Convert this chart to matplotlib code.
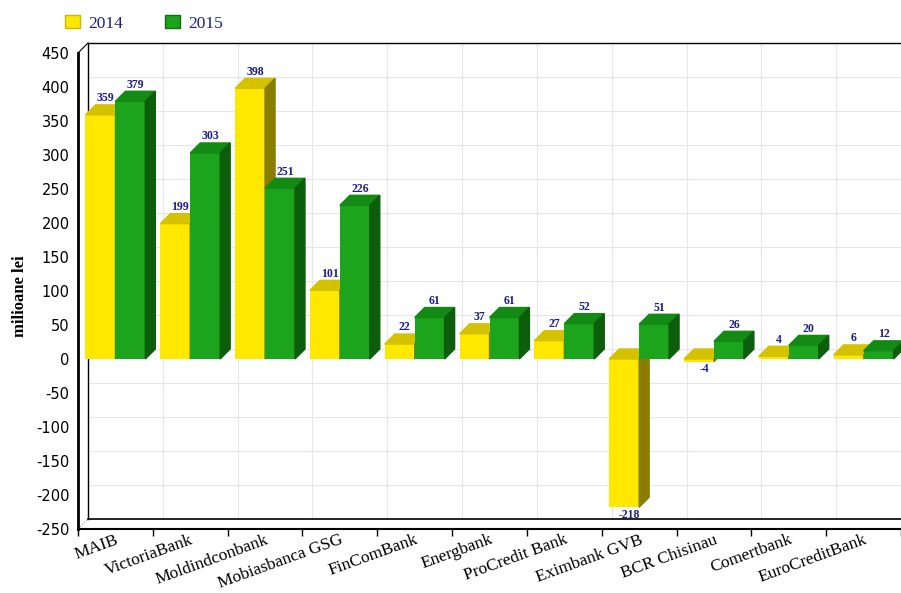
import matplotlib.pyplot as plt
from matplotlib.patches import Polygon, Patch

banks = ["MAIB", "VictoriaBank", "Moldindconbank", "Mobiasbanca GSG", "FinComBank",
         "Energbank", "ProCredit Bank", "Eximbank GVB", "BCR Chisinau", "Comertbank",
         "EuroCreditBank"]
v2014 = [359, 199, 398, 101, 22, 37, 27, -218, -4, 4, 6]
v2015 = [379, 303, 251, 226, 61, 61, 52, 51, 26, 20, 12]
years = ["2014", "2015"]
yticks = list(range(-250, 451, 50))

ymin, ymax = -250, 450
n = len(banks)

# colours: front, top, side
yellow = ("#ffe800", "#d4c200", "#8a7c00")
green = ("#1ca41c", "#138a14", "#0c5e0c")
navy = "#1c1c8c"

fig = plt.figure(figsize=(9.01, 5.93), dpi=100)
ax = fig.add_axes([78 / 901, 64 / 593, 823 / 901, 476 / 593])
ax.set_xlim(0, n)
ax.set_ylim(ymin, ymax)

# 3d depth: ~10 px right and up
px_x = 823 / n
px_y = 476 / (ymax - ymin)
dx = 10 / px_x
dy = 10 / px_y

# back wall grid
gridc = "#e6e6e6"
for y in yticks[1:-1]:
    ax.plot([dx, n + dx], [y + dy, y + dy], color=gridc, lw=0.8, zorder=0, clip_on=False)
for k in range(1, n + 1):
    ax.plot([k + dx, k + dx], [ymin + dy, ymax + dy], color=gridc, lw=0.8, zorder=0, clip_on=False)
ax.plot([dx, n + dx], [ymax + dy, ymax + dy], color="black", lw=1, zorder=1, clip_on=False)
ax.plot([dx, n + dx], [ymin + dy, ymin + dy], color="black", lw=1.2, zorder=1, clip_on=False)
ax.plot([dx, dx], [ymin + dy, ymax + dy], color="black", lw=1, zorder=1, clip_on=False)
ax.plot([0, dx], [ymax, ymax + dy], color="black", lw=0.8, zorder=1, clip_on=False)
ax.plot([0, dx], [ymin, ymin + dy], color="#999999", lw=0.8, ls=":", zorder=1, clip_on=False)

w = 0.4


def bar3d(x0, v, cols, z):
    front, topc, side = cols
    ax.bar(x0, v, width=w, align="edge", color=front, zorder=z)
    top = max(v, 0)
    ax.add_patch(Polygon([(x0, top), (x0 + w, top), (x0 + w + dx, top + dy), (x0 + dx, top + dy)],
                         closed=True, color=topc, zorder=z, clip_on=False))
    ax.add_patch(Polygon([(x0 + w, 0), (x0 + w + dx, dy), (x0 + w + dx, v + dy), (x0 + w, v)],
                         closed=True, color=side, zorder=z, clip_on=False))
    if v >= 0:
        ax.text(x0 + w / 2 + dx / 2, top + dy + 1, str(v), ha="center", va="bottom",
                fontsize=8.5, fontweight="bold", color=navy, family="Liberation Serif", zorder=z + 0.5)
    else:
        ax.text(x0 + w / 2 + dx / 2, v - 2, str(v), ha="center", va="top",
                fontsize=8.5, fontweight="bold", color=navy, family="Liberation Serif", zorder=z + 0.5)


for i in range(n):
    bar3d(i + 0.1, v2014[i], yellow, 2 + i * 2)
    bar3d(i + 0.5, v2015[i], green, 3 + i * 2)

# axes
for s in ["top", "right"]:
    ax.spines[s].set_visible(False)
ax.spines["left"].set_linewidth(2)
ax.spines["bottom"].set_linewidth(1.5)
ax.spines["left"].set_zorder(50)
ax.spines["bottom"].set_zorder(50)

ax.set_yticks(yticks)
ax.set_yticklabels([str(t) for t in yticks], fontsize=10.5, family="DejaVu Sans")
ax.tick_params(axis="y", length=0, pad=6)

ax.set_xticks([i + 0.5 for i in range(n)])
ax.set_xticklabels(banks, rotation=20, ha="right", va="top", rotation_mode="anchor",
                   fontsize=12.5, family="Liberation Serif")
ax.set_xticks(range(n + 1), minor=True)
ax.tick_params(axis="x", which="major", length=0, pad=2)
ax.tick_params(axis="x", which="minor", length=5, width=1, direction="out")

fig.text(20 / 901, 0.5, "milioane lei", rotation=90, ha="center", va="center",
         fontsize=12, fontweight="bold", family="Liberation Serif")

handles = [Patch(facecolor=yellow[0], edgecolor="#c8b800", label=years[0]),
           Patch(facecolor=green[0], edgecolor="#0e6e0e", label=years[1])]
fig.legend(handles=handles, loc="upper left", bbox_to_anchor=(58 / 901, 1 - 8 / 593), ncol=2,
           frameon=False, prop={"family": "Liberation Serif", "size": 12.5}, labelcolor=navy,
           handlelength=0.85, handleheight=0.8, handletextpad=0.5, columnspacing=2.4,
           borderaxespad=0)

fig.savefig("out.png", dpi=100)
